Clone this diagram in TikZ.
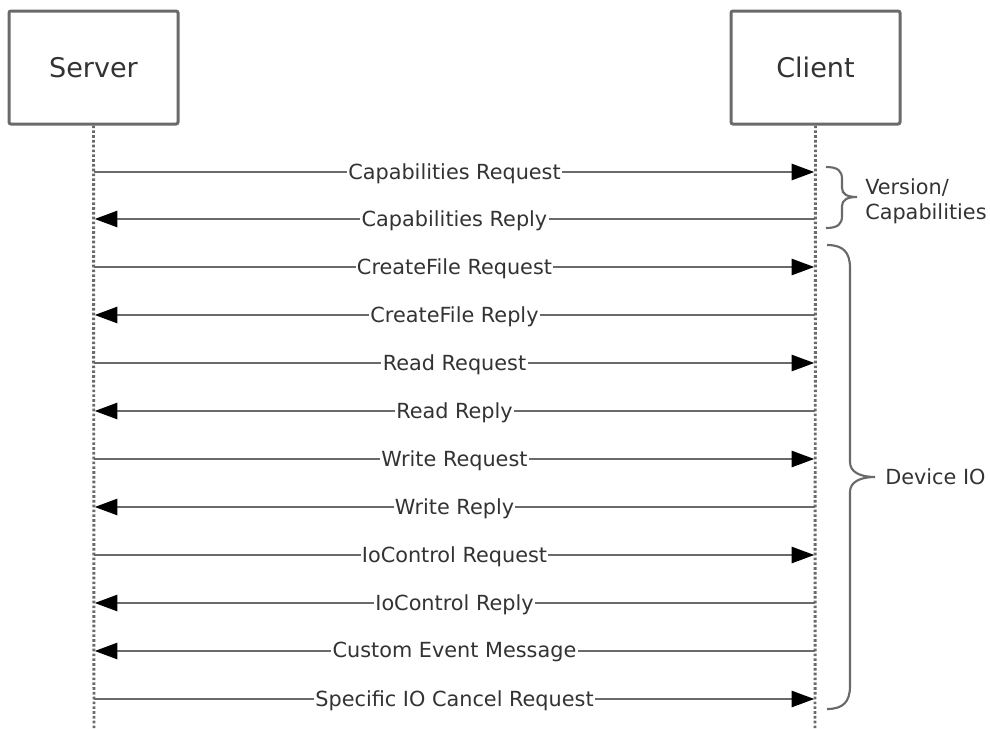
\documentclass[tikz,border=0pt]{standalone}
\usepackage{fontspec}
\setmainfont{DejaVu Sans}
\usetikzlibrary{arrows.meta}
\definecolor{linegray}{HTML}{6A6A6A}
\definecolor{txtgray}{HTML}{333333}
\tikzset{
  actor/.style={draw=linegray, line width=2.25pt, rounded corners=1.5pt, minimum width=126.75pt, minimum height=84.75pt, text=txtgray, font=\fontsize{20.3}{24}\selectfont, fill=white},
  lifeline/.style={draw=linegray, line width=2.2pt, dash pattern=on 2pt off 1.6pt},
  msg/.style={draw=linegray, line width=2pt, -{Triangle[length=17pt,width=12pt,fill=black,color=black]}, shorten >=0.5pt},
  lbl/.style={fill=white, text=txtgray, inner sep=1pt, yshift=-1pt, font=\fontsize{15.6}{18}\selectfont},
  brace/.style={draw=linegray, line width=1.6pt},
  btxt/.style={text=txtgray, font=\fontsize{15.6}{19}\selectfont, align=left, anchor=west, inner sep=0pt}
}
\begin{document}
\begin{tikzpicture}[x=0.75pt, y=-0.75pt]
\useasboundingbox (0,0) rectangle (990,729);
\node[actor] (server) at (93.5,67.5) {Server};
\node[actor] (client) at (815.5,67.5) {Client};
\coordinate (sb) at (94,729);
\coordinate (cb) at (815,729);
\draw[lifeline] (server.south) -- (sb);
\draw[lifeline] (client.south) -- (cb);
% message rows
\foreach \i/\y in {1/172,2/219,3/267,4/315,5/363,6/411,7/459,8/507,9/555,10/603,11/651,12/699}{
  \coordinate (s\i) at (94,\y);
  \coordinate (c\i) at (815,\y);
}
\draw[msg] (s1) -- node[lbl]{Capabilities Request} (c1);
\draw[msg] (c2) -- node[lbl]{Capabilities Reply} (s2);
\draw[msg] (s3) -- node[lbl]{CreateFile Request} (c3);
\draw[msg] (c4) -- node[lbl]{CreateFile Reply} (s4);
\draw[msg] (s5) -- node[lbl]{Read Request} (c5);
\draw[msg] (c6) -- node[lbl]{Read Reply} (s6);
\draw[msg] (s7) -- node[lbl]{Write Request} (c7);
\draw[msg] (c8) -- node[lbl]{Write Reply} (s8);
\draw[msg] (s9) -- node[lbl]{IoControl Request} (c9);
\draw[msg] (c10) -- node[lbl]{IoControl Reply} (s10);
\draw[msg] (c11) -- node[lbl]{Custom Event Message} (s11);
\draw[msg] (s12) -- node[lbl]{Specific IO Cancel Request} (c12);
% braces
\draw[brace] (826,167) .. controls (838,167) and (842,171) .. (842,179) -- (842,188)
  .. controls (842,194) and (847,197) .. (857,197)
  .. controls (847,197) and (842,200) .. (842,206) -- (842,216)
  .. controls (842,224) and (838,228) .. (826,228);
\node[btxt] (vc) at (865,201) {Version/\\Capabilities};
\draw[brace] (827,245) .. controls (843,245) and (850,252) .. (850,268) -- (850,462)
  .. controls (850,472) and (860,477) .. (875,477)
  .. controls (860,477) and (850,482) .. (850,492) -- (850,686)
  .. controls (850,702) and (843,709) .. (827,709);
\node[btxt] (dio) at (885,477) {Device IO};
\end{tikzpicture}
\end{document}
